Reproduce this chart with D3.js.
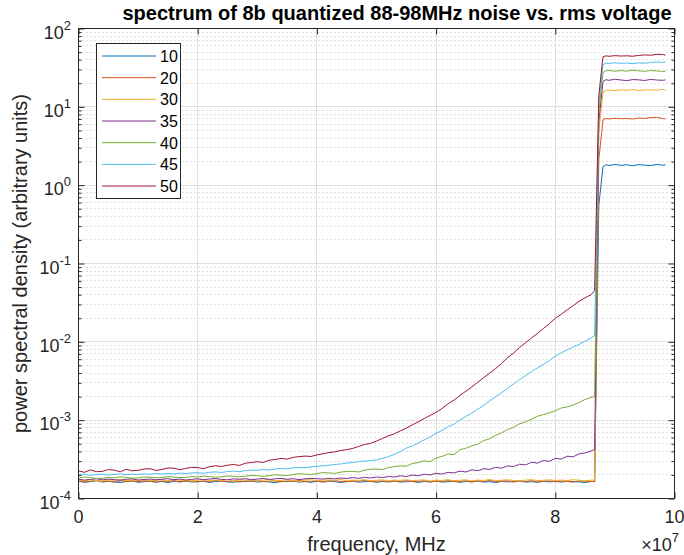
<!DOCTYPE html>
<html><head><meta charset="utf-8">
<script src="https://cdn.jsdelivr.net/npm/d3@7"></script>
<style>body{margin:0;background:#fff}svg{display:block;font-family:"Liberation Sans",Arial,Helvetica,sans-serif}</style>
</head><body><svg id="chart" width="684" height="555"></svg>
<script>
// ---- data ----
const freqMHz = [
  0,1,2,3,4,5,6,7,8,9, 10,11,12,13,14,15,16,17,18,19, 20,21,22,23,24,25,26,27,28,29,
  30,31,32,33,34,35,36,37,38,39, 40,41,42,43,44,45,46,47,48,49, 50,51,52,53,54,55,56,57,58,59,
  60,61,62,63,64,65,66,67,68,69, 70,71,72,73,74,75,76,77,78,79, 80,81,82,83,84,85,86,
  86.6,87.3,88.0,88.5,89,90,91,92,93,94,95,96,97,98,98.5];
const seriesNames = ["10","20","30","35","40","45","50"];
const s10 = [
  1.66e-4,1.61e-4,1.64e-4,1.69e-4,1.62e-4,1.66e-4,1.63e-4,1.60e-4,1.65e-4,1.68e-4,
  1.61e-4,1.64e-4,1.67e-4,1.62e-4,1.65e-4,1.60e-4,1.66e-4,1.63e-4,1.68e-4,1.62e-4,
  1.64e-4,1.66e-4,1.60e-4,1.65e-4,1.67e-4,1.63e-4,1.61e-4,1.66e-4,1.64e-4,1.68e-4,
  1.62e-4,1.65e-4,1.63e-4,1.59e-4,1.66e-4,1.64e-4,1.67e-4,1.62e-4,1.65e-4,1.61e-4,
  1.66e-4,1.63e-4,1.68e-4,1.64e-4,1.60e-4,1.65e-4,1.67e-4,1.62e-4,1.64e-4,1.66e-4,
  1.61e-4,1.65e-4,1.63e-4,1.68e-4,1.62e-4,1.64e-4,1.66e-4,1.60e-4,1.65e-4,1.63e-4,
  1.67e-4,1.62e-4,1.64e-4,1.66e-4,1.61e-4,1.65e-4,1.63e-4,1.67e-4,1.62e-4,1.64e-4,
  1.60e-4,1.66e-4,1.63e-4,1.65e-4,1.68e-4,1.62e-4,1.64e-4,1.61e-4,1.66e-4,1.63e-4,
  1.65e-4,1.62e-4,1.67e-4,1.64e-4,1.63e-4,1.60e-4,1.65e-4,
  1.64e-4,0.55,1.72,1.82,1.78,1.84,1.79,1.82,1.77,1.83,1.80,1.78,1.84,1.80,1.82];
const s20 = [
  1.68e-4,1.63e-4,1.66e-4,1.70e-4,1.64e-4,1.67e-4,1.62e-4,1.69e-4,1.65e-4,1.67e-4,
  1.64e-4,1.68e-4,1.66e-4,1.61e-4,1.67e-4,1.65e-4,1.69e-4,1.63e-4,1.66e-4,1.68e-4,
  1.63e-4,1.67e-4,1.65e-4,1.70e-4,1.66e-4,1.64e-4,1.68e-4,1.62e-4,1.67e-4,1.65e-4,
  1.69e-4,1.64e-4,1.66e-4,1.68e-4,1.63e-4,1.67e-4,1.65e-4,1.70e-4,1.64e-4,1.66e-4,
  1.68e-4,1.62e-4,1.66e-4,1.69e-4,1.65e-4,1.63e-4,1.67e-4,1.66e-4,1.70e-4,1.64e-4,
  1.66e-4,1.68e-4,1.63e-4,1.67e-4,1.65e-4,1.69e-4,1.64e-4,1.66e-4,1.68e-4,1.62e-4,
  1.67e-4,1.65e-4,1.69e-4,1.64e-4,1.66e-4,1.68e-4,1.63e-4,1.67e-4,1.65e-4,1.70e-4,
  1.64e-4,1.66e-4,1.68e-4,1.62e-4,1.67e-4,1.65e-4,1.69e-4,1.63e-4,1.66e-4,1.68e-4,
  1.64e-4,1.67e-4,1.65e-4,1.62e-4,1.68e-4,1.66e-4,1.64e-4,
  1.66e-4,2.1,6.8,7.1,7.0,7.15,7.05,7.1,7.0,7.2,7.1,7.3,7.35,7.1,7.0];
const s30 = [
  1.72e-4,1.68e-4,1.74e-4,1.70e-4,1.67e-4,1.73e-4,1.71e-4,1.75e-4,1.69e-4,1.72e-4,
  1.70e-4,1.74e-4,1.68e-4,1.71e-4,1.73e-4,1.69e-4,1.75e-4,1.70e-4,1.72e-4,1.67e-4,
  1.71e-4,1.74e-4,1.69e-4,1.72e-4,1.70e-4,1.75e-4,1.68e-4,1.72e-4,1.71e-4,1.73e-4,
  1.69e-4,1.72e-4,1.74e-4,1.68e-4,1.71e-4,1.73e-4,1.70e-4,1.66e-4,1.72e-4,1.74e-4,
  1.69e-4,1.71e-4,1.73e-4,1.70e-4,1.75e-4,1.68e-4,1.72e-4,1.70e-4,1.74e-4,1.69e-4,
  1.71e-4,1.73e-4,1.68e-4,1.72e-4,1.70e-4,1.74e-4,1.69e-4,1.71e-4,1.73e-4,1.67e-4,
  1.72e-4,1.70e-4,1.74e-4,1.69e-4,1.71e-4,1.73e-4,1.68e-4,1.72e-4,1.70e-4,1.75e-4,
  1.69e-4,1.71e-4,1.73e-4,1.70e-4,1.68e-4,1.72e-4,1.74e-4,1.69e-4,1.71e-4,1.73e-4,
  1.70e-4,1.72e-4,1.69e-4,1.74e-4,1.71e-4,1.68e-4,1.72e-4,
  1.72e-4,4.8,15.5,16.2,16.4,16.1,16.5,16.3,16.6,16.2,16.4,16.5,16.3,16.7,16.4];
const s35 = [
  1.76e-4,1.72e-4,1.75e-4,1.79e-4,1.73e-4,1.77e-4,1.74e-4,1.71e-4,1.76e-4,1.78e-4,
  1.72e-4,1.75e-4,1.77e-4,1.73e-4,1.76e-4,1.79e-4,1.74e-4,1.77e-4,1.72e-4,1.76e-4,
  1.78e-4,1.74e-4,1.77e-4,1.80e-4,1.75e-4,1.73e-4,1.78e-4,1.76e-4,1.79e-4,1.74e-4,
  1.77e-4,1.80e-4,1.75e-4,1.78e-4,1.81e-4,1.76e-4,1.79e-4,1.74e-4,1.78e-4,1.81e-4,
  1.79e-4,1.77e-4,1.81e-4,1.78e-4,1.83e-4,1.80e-4,1.85e-4,1.81e-4,1.86e-4,1.83e-4,
  1.88e-4,1.85e-4,1.91e-4,1.88e-4,1.95e-4,1.91e-4,1.99e-4,1.95e-4,2.04e-4,2.00e-4,
  2.10e-4,2.05e-4,2.16e-4,2.12e-4,2.24e-4,2.18e-4,2.32e-4,2.27e-4,2.40e-4,2.35e-4,
  2.50e-4,2.44e-4,2.61e-4,2.55e-4,2.74e-4,2.68e-4,2.90e-4,2.83e-4,3.06e-4,2.98e-4,
  3.26e-4,3.18e-4,3.47e-4,3.40e-4,3.72e-4,3.82e-4,4.05e-4,
  4.2e-4,6.5,21,22.2,21.8,22.5,22.0,21.6,22.3,22.1,21.7,22.4,22.0,21.8,22.1];
const s40 = [
  1.83e-4,1.88e-4,1.85e-4,1.80e-4,1.81e-4,1.86e-4,1.84e-4,1.89e-4,1.86e-4,1.82e-4,
  1.83e-4,1.88e-4,1.87e-4,1.84e-4,1.85e-4,1.90e-4,1.88e-4,1.85e-4,1.86e-4,1.91e-4,
  1.88e-4,1.93e-4,1.90e-4,1.87e-4,1.89e-4,1.94e-4,1.92e-4,1.89e-4,1.93e-4,1.97e-4,
  1.95e-4,1.92e-4,1.96e-4,2.01e-4,1.99e-4,1.96e-4,2.02e-4,2.07e-4,2.05e-4,2.02e-4,
  2.08e-4,2.14e-4,2.12e-4,2.09e-4,2.17e-4,2.22e-4,2.22e-4,2.18e-4,2.30e-4,2.36e-4,
  2.38e-4,2.34e-4,2.48e-4,2.55e-4,2.62e-4,2.58e-4,2.80e-4,2.88e-4,3.02e-4,2.96e-4,
  3.28e-4,3.45e-4,3.70e-4,3.62e-4,4.20e-4,4.38e-4,4.70e-4,4.95e-4,5.50e-4,5.80e-4,
  6.40e-4,6.90e-4,7.60e-4,8.10e-4,9.00e-4,9.50e-4,1.03e-3,1.12e-3,1.18e-3,1.24e-3,
  1.32e-3,1.43e-3,1.48e-3,1.56e-3,1.68e-3,1.84e-3,1.95e-3,
  2.0e-3,8.5,27.5,28.8,29.2,28.5,29.0,28.6,29.3,28.8,28.4,29.1,28.7,28.3,28.5];
const s45 = [
  2.00e-4,2.05e-4,1.97e-4,2.02e-4,2.04e-4,1.99e-4,2.03e-4,2.06e-4,2.01e-4,2.04e-4,
  2.02e-4,2.07e-4,2.04e-4,2.08e-4,2.05e-4,2.10e-4,2.06e-4,2.11e-4,2.08e-4,2.12e-4,
  2.13e-4,2.10e-4,2.16e-4,2.19e-4,2.15e-4,2.21e-4,2.24e-4,2.20e-4,2.27e-4,2.30e-4,
  2.30e-4,2.34e-4,2.31e-4,2.38e-4,2.42e-4,2.39e-4,2.46e-4,2.50e-4,2.47e-4,2.54e-4,
  2.57e-4,2.62e-4,2.66e-4,2.72e-4,2.76e-4,2.83e-4,2.88e-4,2.95e-4,3.00e-4,3.06e-4,
  3.10e-4,3.26e-4,3.42e-4,3.66e-4,3.95e-4,4.40e-4,4.70e-4,5.10e-4,5.60e-4,6.10e-4,
  6.80e-4,7.40e-4,8.20e-4,8.90e-4,1.00e-3,1.12e-3,1.23e-3,1.38e-3,1.55e-3,1.76e-3,
  2.00e-3,2.25e-3,2.55e-3,2.90e-3,3.30e-3,3.70e-3,4.15e-3,4.65e-3,5.15e-3,5.75e-3,
  6.60e-3,7.25e-3,7.90e-3,8.60e-3,9.30e-3,1.02e-2,1.12e-2,
  1.2e-2,11,34.5,36.2,35.8,36.5,35.9,36.3,35.6,36.4,36.0,36.8,37.5,36.9,37.4];
const s50 = [
  2.25e-4,2.16e-4,2.32e-4,2.20e-4,2.22e-4,2.34e-4,2.30e-4,2.19e-4,2.36e-4,2.26e-4,
  2.29e-4,2.38e-4,2.40e-4,2.28e-4,2.35e-4,2.45e-4,2.44e-4,2.33e-4,2.42e-4,2.50e-4,
  2.48e-4,2.40e-4,2.55e-4,2.62e-4,2.56e-4,2.66e-4,2.72e-4,2.64e-4,2.82e-4,2.88e-4,
  2.95e-4,2.88e-4,3.08e-4,3.15e-4,3.25e-4,3.18e-4,3.35e-4,3.42e-4,3.48e-4,3.44e-4,
  3.60e-4,3.72e-4,3.85e-4,3.95e-4,4.10e-4,4.20e-4,4.35e-4,4.62e-4,4.90e-4,5.05e-4,
  5.40e-4,5.85e-4,6.30e-4,6.70e-4,7.30e-4,7.90e-4,8.70e-4,9.50e-4,1.05e-3,1.15e-3,
  1.26e-3,1.41e-3,1.62e-3,1.80e-3,2.07e-3,2.34e-3,2.66e-3,3.05e-3,3.50e-3,4.00e-3,
  4.57e-3,5.30e-3,6.30e-3,7.20e-3,8.50e-3,9.70e-3,1.12e-2,1.28e-2,1.48e-2,1.70e-2,
  2.00e-2,2.25e-2,2.57e-2,2.90e-2,3.30e-2,3.65e-2,4.00e-2,
  4.5e-2,14,43.5,44.8,44.2,45.0,44.5,44.8,44.3,45.3,46.0,45.5,46.8,46.5,45.8];
const seriesValues = [s10,s20,s30,s35,s40,s45,s50];
const colors = ["#0072BD","#D95319","#EDB120","#7E2F8E","#77AC30","#4DBEEE","#A2142F"];
const xTicks = [0,2e7,4e7,6e7,8e7,1e8];
const xTickLabels = ["0","2","4","6","8","10"];
const yTicks = [1e-4,1e-3,1e-2,1e-1,1e0,1e1,1e2];
const yTickExps = ["-4","-3","-2","-1","0","1","2"];
const titleText = "spectrum of 8b quantized 88-98MHz noise vs. rms voltage";
const xLabelText = "frequency, MHz";
const yLabelText = "power spectral density (arbitrary units)";

// ---- drawing ----
const m = {l:78.5, t:28.5, r:674.5, b:498.5};
const svg = d3.select("#chart");
const x = d3.scaleLinear().domain([0,1e8]).range([m.l,m.r]);
const y = d3.scaleLog().domain([1e-4,1e2]).range([m.b,m.t]);
const px = v => Math.round(v-0.5)+0.5;
const axisCol = "#262626";

const allY = y.ticks();
const minorY = allY.filter(v => !yTicks.some(t => Math.abs(t-v)/t < 1e-6));

// minor grid (dotted)
svg.append("g").selectAll("line").data(minorY).join("line")
  .attr("x1",m.l).attr("x2",m.r).attr("y1",d=>px(y(d))).attr("y2",d=>px(y(d)))
  .attr("stroke","#c4c4c4").attr("stroke-width",1).attr("stroke-dasharray","1,3");
// major grid
svg.append("g").selectAll("line").data(yTicks).join("line")
  .attr("x1",m.l).attr("x2",m.r).attr("y1",d=>px(y(d))).attr("y2",d=>px(y(d)))
  .attr("stroke","#dfdfdf").attr("stroke-width",1);
svg.append("g").selectAll("line").data(xTicks).join("line")
  .attr("y1",m.t).attr("y2",m.b).attr("x1",d=>px(x(d))).attr("x2",d=>px(x(d)))
  .attr("stroke","#dfdfdf").attr("stroke-width",1);

// data lines
const freqHz = freqMHz.map(f => f*1e6);
const line = d3.line().x(d=>x(d[0])).y(d=>y(d[1]));
svg.append("g").selectAll("path").data(seriesValues).join("path")
  .attr("d", vals => line(vals.map((v,i)=>[freqHz[i], v])))
  .attr("fill","none").attr("stroke",(d,i)=>colors[i]).attr("stroke-width",1)
  .attr("stroke-linejoin","round");

// axes box
svg.append("rect").attr("x",m.l).attr("y",m.t).attr("width",m.r-m.l).attr("height",m.b-m.t)
  .attr("fill","none").attr("stroke",axisCol).attr("stroke-width",1);

// ticks via d3 axes (inside)
svg.append("g").attr("transform",`translate(0,${m.b})`)
  .call(d3.axisBottom(x).tickValues(xTicks).tickSizeInner(-6).tickSizeOuter(0).tickFormat(""))
  .call(g=>g.select(".domain").remove());
svg.append("g").attr("transform",`translate(0,${m.t})`)
  .call(d3.axisTop(x).tickValues(xTicks).tickSizeInner(-6).tickSizeOuter(0).tickFormat(""))
  .call(g=>g.select(".domain").remove());
svg.append("g").attr("transform",`translate(${m.l},0)`)
  .call(d3.axisLeft(y).tickValues(yTicks).tickSizeInner(-6).tickSizeOuter(0).tickFormat(""))
  .call(g=>g.select(".domain").remove());
svg.append("g").attr("transform",`translate(${m.l},0)`)
  .call(d3.axisLeft(y).tickValues(minorY).tickSizeInner(-3).tickSizeOuter(0).tickFormat(""))
  .call(g=>g.select(".domain").remove());
svg.append("g").attr("transform",`translate(${m.r},0)`)
  .call(d3.axisRight(y).tickValues(yTicks).tickSizeInner(-6).tickSizeOuter(0).tickFormat(""))
  .call(g=>g.select(".domain").remove());
svg.append("g").attr("transform",`translate(${m.r},0)`)
  .call(d3.axisRight(y).tickValues(minorY).tickSizeInner(-3).tickSizeOuter(0).tickFormat(""))
  .call(g=>g.select(".domain").remove());
svg.selectAll(".tick line").attr("stroke",axisCol).attr("stroke-width",1);

// x tick labels
svg.append("g").selectAll("text").data(xTicks).join("text")
  .attr("x",d=>x(d)).attr("y",m.b+24.5).attr("text-anchor","middle")
  .attr("font-size",18).attr("fill",axisCol).text((d,i)=>xTickLabels[i]);
// y tick labels 10^n
const yl = svg.append("g").selectAll("text").data(yTicks).join("text")
  .attr("x",71).attr("y",d=>y(d)+10).attr("text-anchor","end")
  .attr("font-size",18).attr("fill",axisCol);
yl.append("tspan").text("10");
yl.append("tspan").attr("dy",-9).attr("font-size",13).text((d,i)=>yTickExps[i]);

// x exponent
const xe = svg.append("text").attr("x",679).attr("y",551).attr("text-anchor","end")
  .attr("font-size",18).attr("fill",axisCol);
xe.append("tspan").text("\u00d710");
xe.append("tspan").attr("dy",-9).attr("font-size",13).text("7");

// axis labels
svg.append("text").attr("x",(m.l+m.r)/2).attr("y",551).attr("text-anchor","middle")
  .attr("font-size",20).attr("fill",axisCol).text(xLabelText);
svg.append("text").attr("transform",`translate(27,${(m.t+m.b)/2}) rotate(-90)`)
  .attr("text-anchor","middle").attr("font-size",20).attr("fill",axisCol).text(yLabelText);
// title
svg.append("text").attr("x",397).attr("y",20).attr("text-anchor","middle")
  .attr("font-size",20).attr("font-weight","bold").attr("fill","#000").text(titleText);

// legend
const lg = svg.append("g");
lg.append("rect").attr("x",96.5).attr("y",43.5).attr("width",84).attr("height",155)
  .attr("fill","#fff").attr("stroke",axisCol).attr("stroke-width",1);
const ent = lg.selectAll("g").data(seriesNames).join("g")
  .attr("transform",(d,i)=>`translate(0,${56+i*21.67})`);
ent.append("line").attr("x1",102).attr("x2",156).attr("y1",0).attr("y2",0)
  .attr("stroke",(d,i)=>colors[i]).attr("stroke-width",1);
ent.append("text").attr("x",160).attr("y",6).attr("font-size",16).attr("fill","#000").text(d=>d);
</script></body></html>
